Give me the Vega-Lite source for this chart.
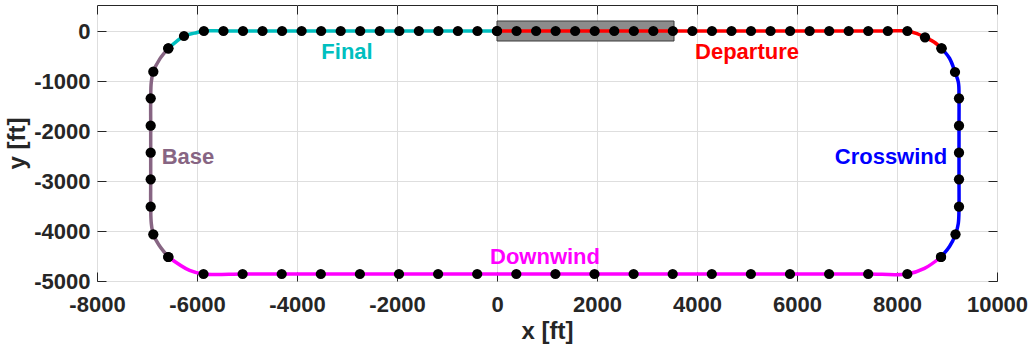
{
  "$schema": "https://vega.github.io/schema/vega-lite/v6.json",
  "autosize": "none",
  "width": 900,
  "height": 276,
  "padding": {"left": 97, "top": 5, "right": 35, "bottom": 65},
  "background": "white",
  "config": {
    "view": {"stroke": "#262626", "strokeWidth": 1},
    "font": "Liberation Sans",
    "axis": {
      "labelFont": "Liberation Sans",
      "labelFontWeight": "bold",
      "labelFontSize": 22,
      "labelColor": "#262626",
      "labelFlush": false,
      "labelOverlap": false,
      "labelExpr": "'' + datum.value",
      "titleFont": "Liberation Sans",
      "titleFontWeight": "bold",
      "titleFontSize": 24,
      "titleColor": "#262626",
      "tickColor": "#262626",
      "tickSize": -9,
      "domain": false,
      "gridColor": "#dedede",
      "gridWidth": 1
    }
  },
  "datasets": {
    "path": [
      {"seg": "Departure", "kind": "s", "i": 0, "x": 0, "y": 0},
      {"seg": "Departure", "kind": "s", "i": 1, "x": 391, "y": 0},
      {"seg": "Departure", "kind": "s", "i": 2, "x": 782, "y": 0},
      {"seg": "Departure", "kind": "s", "i": 3, "x": 1172, "y": 0},
      {"seg": "Departure", "kind": "s", "i": 4, "x": 1563, "y": 0},
      {"seg": "Departure", "kind": "s", "i": 5, "x": 1954, "y": 0},
      {"seg": "Departure", "kind": "s", "i": 6, "x": 2345, "y": 0},
      {"seg": "Departure", "kind": "s", "i": 7, "x": 2736, "y": 0},
      {"seg": "Departure", "kind": "s", "i": 8, "x": 3126, "y": 0},
      {"seg": "Departure", "kind": "s", "i": 9, "x": 3517, "y": 0},
      {"seg": "Departure", "kind": "s", "i": 10, "x": 3908, "y": 0},
      {"seg": "Departure", "kind": "s", "i": 11, "x": 4299, "y": 0},
      {"seg": "Departure", "kind": "s", "i": 12, "x": 4690, "y": 0},
      {"seg": "Departure", "kind": "s", "i": 13, "x": 5080, "y": 0},
      {"seg": "Departure", "kind": "s", "i": 14, "x": 5471, "y": 0},
      {"seg": "Departure", "kind": "s", "i": 15, "x": 5862, "y": 0},
      {"seg": "Departure", "kind": "s", "i": 16, "x": 6253, "y": 0},
      {"seg": "Departure", "kind": "s", "i": 17, "x": 6644, "y": 0},
      {"seg": "Departure", "kind": "s", "i": 18, "x": 7034, "y": 0},
      {"seg": "Departure", "kind": "s", "i": 19, "x": 7425, "y": 0},
      {"seg": "Departure", "kind": "s", "i": 20, "x": 7816, "y": 0},
      {"seg": "Departure", "kind": "s", "i": 21, "x": 8207, "y": 0},
      {"seg": "Departure", "kind": "t", "i": 22, "x": 8400, "y": -53},
      {"seg": "Departure", "kind": "s", "i": 23, "x": 8560, "y": -127},
      {"seg": "Departure", "kind": "t", "i": 24, "x": 8740, "y": -220},
      {"seg": "Departure", "kind": "s", "i": 25, "x": 8890, "y": -347},
      {"seg": "Crosswind", "kind": "s", "i": 26, "x": 8890, "y": -347},
      {"seg": "Crosswind", "kind": "t", "i": 27, "x": 9050, "y": -545},
      {"seg": "Crosswind", "kind": "s", "i": 28, "x": 9160, "y": -820},
      {"seg": "Crosswind", "kind": "t", "i": 29, "x": 9228, "y": -1030},
      {"seg": "Crosswind", "kind": "s", "i": 30, "x": 9240, "y": -1347},
      {"seg": "Crosswind", "kind": "s", "i": 31, "x": 9240, "y": -1893},
      {"seg": "Crosswind", "kind": "s", "i": 32, "x": 9240, "y": -2433},
      {"seg": "Crosswind", "kind": "s", "i": 33, "x": 9240, "y": -2967},
      {"seg": "Crosswind", "kind": "s", "i": 34, "x": 9240, "y": -3513},
      {"seg": "Crosswind", "kind": "t", "i": 35, "x": 9226, "y": -3850},
      {"seg": "Crosswind", "kind": "s", "i": 36, "x": 9170, "y": -4067},
      {"seg": "Crosswind", "kind": "t", "i": 37, "x": 9050, "y": -4311},
      {"seg": "Crosswind", "kind": "s", "i": 38, "x": 8880, "y": -4520},
      {"seg": "Downwind", "kind": "s", "i": 39, "x": 8880, "y": -4520},
      {"seg": "Downwind", "kind": "t", "i": 40, "x": 8550, "y": -4748},
      {"seg": "Downwind", "kind": "s", "i": 41, "x": 8206, "y": -4860},
      {"seg": "Downwind", "kind": "s", "i": 42, "x": 7424, "y": -4860},
      {"seg": "Downwind", "kind": "s", "i": 43, "x": 6642, "y": -4860},
      {"seg": "Downwind", "kind": "s", "i": 44, "x": 5860, "y": -4860},
      {"seg": "Downwind", "kind": "s", "i": 45, "x": 5078, "y": -4860},
      {"seg": "Downwind", "kind": "s", "i": 46, "x": 4296, "y": -4860},
      {"seg": "Downwind", "kind": "s", "i": 47, "x": 3514, "y": -4860},
      {"seg": "Downwind", "kind": "s", "i": 48, "x": 2732, "y": -4860},
      {"seg": "Downwind", "kind": "s", "i": 49, "x": 1950, "y": -4860},
      {"seg": "Downwind", "kind": "s", "i": 50, "x": 1168, "y": -4860},
      {"seg": "Downwind", "kind": "s", "i": 51, "x": 386, "y": -4860},
      {"seg": "Downwind", "kind": "s", "i": 52, "x": -396, "y": -4860},
      {"seg": "Downwind", "kind": "s", "i": 53, "x": -1178, "y": -4860},
      {"seg": "Downwind", "kind": "s", "i": 54, "x": -1960, "y": -4860},
      {"seg": "Downwind", "kind": "s", "i": 55, "x": -2742, "y": -4860},
      {"seg": "Downwind", "kind": "s", "i": 56, "x": -3524, "y": -4860},
      {"seg": "Downwind", "kind": "s", "i": 57, "x": -4306, "y": -4860},
      {"seg": "Downwind", "kind": "s", "i": 58, "x": -5088, "y": -4860},
      {"seg": "Downwind", "kind": "s", "i": 59, "x": -5870, "y": -4860},
      {"seg": "Downwind", "kind": "t", "i": 60, "x": -6149, "y": -4789},
      {"seg": "Downwind", "kind": "s", "i": 61, "x": -6574, "y": -4520},
      {"seg": "Base", "kind": "s", "i": 62, "x": -6574, "y": -4520},
      {"seg": "Base", "kind": "t", "i": 63, "x": -6768, "y": -4270},
      {"seg": "Base", "kind": "s", "i": 64, "x": -6874, "y": -4067},
      {"seg": "Base", "kind": "t", "i": 65, "x": -6914, "y": -3850},
      {"seg": "Base", "kind": "s", "i": 66, "x": -6926, "y": -3513},
      {"seg": "Base", "kind": "s", "i": 67, "x": -6926, "y": -2967},
      {"seg": "Base", "kind": "s", "i": 68, "x": -6926, "y": -2433},
      {"seg": "Base", "kind": "s", "i": 69, "x": -6926, "y": -1893},
      {"seg": "Base", "kind": "s", "i": 70, "x": -6926, "y": -1347},
      {"seg": "Base", "kind": "t", "i": 71, "x": -6915, "y": -1031},
      {"seg": "Base", "kind": "s", "i": 72, "x": -6874, "y": -813},
      {"seg": "Base", "kind": "t", "i": 73, "x": -6740, "y": -553},
      {"seg": "Base", "kind": "s", "i": 74, "x": -6574, "y": -347},
      {"seg": "Final", "kind": "s", "i": 75, "x": -6574, "y": -347},
      {"seg": "Final", "kind": "t", "i": 76, "x": -6420, "y": -218},
      {"seg": "Final", "kind": "s", "i": 77, "x": -6260, "y": -100},
      {"seg": "Final", "kind": "t", "i": 78, "x": -6050, "y": -43},
      {"seg": "Final", "kind": "s", "i": 79, "x": -5862, "y": 0},
      {"seg": "Final", "kind": "s", "i": 80, "x": -5471, "y": 0},
      {"seg": "Final", "kind": "s", "i": 81, "x": -5080, "y": 0},
      {"seg": "Final", "kind": "s", "i": 82, "x": -4690, "y": 0},
      {"seg": "Final", "kind": "s", "i": 83, "x": -4299, "y": 0},
      {"seg": "Final", "kind": "s", "i": 84, "x": -3908, "y": 0},
      {"seg": "Final", "kind": "s", "i": 85, "x": -3517, "y": 0},
      {"seg": "Final", "kind": "s", "i": 86, "x": -3126, "y": 0},
      {"seg": "Final", "kind": "s", "i": 87, "x": -2736, "y": 0},
      {"seg": "Final", "kind": "s", "i": 88, "x": -2345, "y": 0},
      {"seg": "Final", "kind": "s", "i": 89, "x": -1954, "y": 0},
      {"seg": "Final", "kind": "s", "i": 90, "x": -1563, "y": 0},
      {"seg": "Final", "kind": "s", "i": 91, "x": -1172, "y": 0},
      {"seg": "Final", "kind": "s", "i": 92, "x": -782, "y": 0},
      {"seg": "Final", "kind": "s", "i": 93, "x": -391, "y": 0},
      {"seg": "Final", "kind": "s", "i": 94, "x": 0, "y": 0}
    ],
    "runway": [
      {"x": 0, "x2": 3540, "y": 200, "y2": -200}
    ],
    "labels": [
      {"seg": "Final", "x": -3000, "y": -420},
      {"seg": "Departure", "x": 5000, "y": -420},
      {"seg": "Base", "x": -6180, "y": -2520},
      {"seg": "Crosswind", "x": 7880, "y": -2520},
      {"seg": "Downwind", "x": 960, "y": -4520}
    ]
  },
  "layer": [
    {
      "data": {"name": "runway"},
      "mark": {"type": "rect", "fill": "#8c8c8c", "stroke": "#3a3a3a", "strokeWidth": 1},
      "encoding": {
        "x": {
          "field": "x", "type": "quantitative",
          "scale": {"domain": [-8000, 10000], "nice": false, "zero": false},
          "axis": {
            "orient": "bottom",
            "values": [-8000, -6000, -4000, -2000, 0, 2000, 4000, 6000, 8000, 10000],
            "grid": true,
            "labelPadding": 22,
            "title": "x [ft]",
            "titlePadding": 4
          }
        },
        "x2": {"field": "x2"},
        "y": {
          "field": "y", "type": "quantitative",
          "scale": {"domain": [-5000, 520], "nice": false, "zero": false},
          "axis": {
            "orient": "left",
            "values": [-5000, -4000, -3000, -2000, -1000, 0],
            "grid": true,
            "labelPadding": 16,
            "title": "y [ft]",
            "titlePadding": 4
          }
        },
        "y2": {"field": "y2"}
      }
    },
    {
      "data": {"name": "path"},
      "mark": {"type": "line", "strokeWidth": 3.5, "interpolate": "catmull-rom"},
      "encoding": {
        "x": {
          "field": "x", "type": "quantitative",
          "axis": {
            "orient": "top",
            "values": [-8000, -6000, -4000, -2000, 0, 2000, 4000, 6000, 8000, 10000],
            "labels": false, "grid": false, "title": null
          }
        },
        "y": {
          "field": "y", "type": "quantitative",
          "axis": {
            "orient": "right",
            "values": [-5000, -4000, -3000, -2000, -1000, 0],
            "labels": false, "grid": false, "title": null
          }
        },
        "color": {
          "field": "seg", "type": "nominal",
          "scale": {
            "domain": ["Departure", "Crosswind", "Downwind", "Base", "Final"],
            "range": ["#ff0000", "#0000ff", "#ff00ff", "#876583", "#00bfbf"]
          },
          "legend": null
        },
        "detail": {"field": "seg"},
        "order": {"field": "i", "type": "quantitative"}
      }
    },
    {
      "data": {"name": "path"},
      "transform": [{"filter": "datum.kind == 's'"}],
      "mark": {"type": "point", "shape": "circle", "filled": true, "size": 105, "color": "#000000", "opacity": 1},
      "encoding": {
        "x": {"field": "x", "type": "quantitative", "axis": null},
        "y": {"field": "y", "type": "quantitative", "axis": null}
      }
    },
    {
      "data": {"name": "labels"},
      "mark": {"type": "text", "font": "Liberation Sans", "fontWeight": "bold", "fontSize": 22, "align": "center", "baseline": "middle"},
      "encoding": {
        "x": {"field": "x", "type": "quantitative", "axis": null},
        "y": {"field": "y", "type": "quantitative", "axis": null},
        "text": {"field": "seg"},
        "color": {"field": "seg", "type": "nominal", "legend": null}
      }
    }
  ],
  "resolve": {"axis": {"x": "independent", "y": "independent"}}
}
